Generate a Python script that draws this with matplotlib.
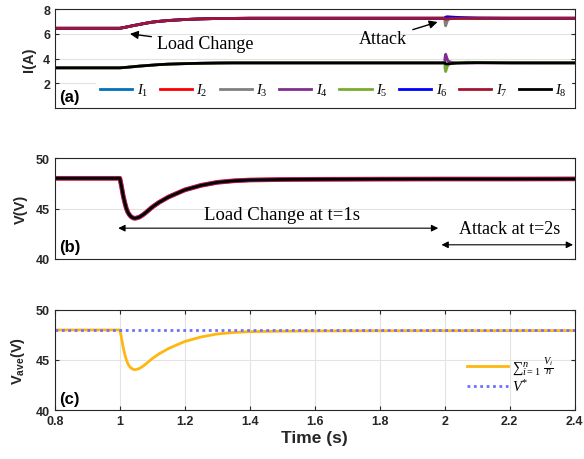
import matplotlib.pyplot as plt

plt.rcParams['font.family'] = 'Liberation Sans'
plt.rcParams['mathtext.fontset'] = 'custom'
plt.rcParams['mathtext.rm'] = 'Liberation Serif'
plt.rcParams['mathtext.it'] = 'Liberation Serif:italic'
plt.rcParams['mathtext.bf'] = 'Liberation Sans:bold'

# tempo comum antes do ataque
t_carga = [0.8, 1.0, 1.02, 1.04, 1.06, 1.08, 1.10, 1.12, 1.15, 1.20, 1.25,
           1.30, 1.35, 1.40, 1.60, 1.80, 2.0]
i_alta = [6.45, 6.45, 6.55, 6.66, 6.76, 6.86, 6.95, 7.01, 7.08, 7.16, 7.21,
          7.24, 7.25, 7.26, 7.26, 7.26, 7.26]
i_baixa = [3.25, 3.25, 3.29, 3.34, 3.39, 3.43, 3.47, 3.51, 3.55, 3.59, 3.62,
           3.64, 3.65, 3.65, 3.65, 3.65, 3.65]

# depois do ataque (t=2s)
t_ataque = [2.0, 2.001, 2.003, 2.006, 2.01, 2.02, 2.04, 2.07, 2.1, 2.15, 2.2, 2.3, 2.4]
i_ataque = {
    1: [7.26, 7.28, 7.30, 7.32, 7.31, 7.29, 7.28, 7.27, 7.26, 7.26, 7.26, 7.26, 7.26],
    2: [7.26, 7.26, 7.25, 7.25, 7.25, 7.26, 7.26, 7.26, 7.26, 7.26, 7.26, 7.26, 7.26],
    3: [7.26, 6.90, 6.65, 6.90, 7.15, 7.25, 7.26, 7.26, 7.26, 7.26, 7.26, 7.26, 7.26],
    4: [3.65, 4.10, 4.35, 4.10, 3.80, 3.70, 3.66, 3.64, 3.65, 3.65, 3.65, 3.65, 3.65],
    5: [3.65, 3.20, 2.95, 3.20, 3.50, 3.62, 3.68, 3.70, 3.69, 3.67, 3.66, 3.65, 3.65],
    6: [7.26, 7.30, 7.35, 7.38, 7.38, 7.36, 7.33, 7.30, 7.28, 7.27, 7.26, 7.26, 7.26],
    7: [7.26, 7.20, 7.18, 7.20, 7.22, 7.24, 7.25, 7.26, 7.26, 7.26, 7.26, 7.26, 7.26],
    8: [3.65, 3.62, 3.58, 3.56, 3.57, 3.60, 3.63, 3.66, 3.67, 3.66, 3.65, 3.65, 3.65],
}
grupo_alto = [1, 2, 3, 6, 7]
cores = {1: '#0072BD', 2: '#FF0000', 3: '#808080', 4: '#7E2F8E',
         5: '#77AC30', 6: '#0000FF', 7: '#A2142F', 8: '#000000'}

# tensao
v_t = [0.8, 1.0, 1.005, 1.01, 1.015, 1.02, 1.025, 1.03, 1.035, 1.04, 1.045, 1.05,
       1.06, 1.07, 1.08, 1.1, 1.12, 1.15, 1.2, 1.25, 1.3, 1.35, 1.4, 1.5, 1.6,
       1.8, 2.0, 2.2, 2.4]
v_dc = [48.0, 48.0, 47.2, 46.3, 45.6, 45.0, 44.6, 44.35, 44.18, 44.08, 44.03, 44.05,
        44.15, 44.35, 44.6, 45.15, 45.6, 46.15, 46.85, 47.3, 47.6, 47.75, 47.83, 47.88,
        47.9, 47.92, 47.93, 47.93, 47.94]
v_ref = 48.0

x_ticks = [0.8, 1.0, 1.2, 1.4, 1.6, 1.8, 2.0, 2.2, 2.4]
x_labels = ['0.8', '1', '1.2', '1.4', '1.6', '1.8', '2', '2.2', '2.4']

cinza = '#262626'
fig = plt.figure(figsize=(5.84, 4.60), dpi=100)
ax_a = fig.add_axes([0.094, 0.763, 0.890, 0.215])
ax_b = fig.add_axes([0.094, 0.435, 0.890, 0.219])
ax_c = fig.add_axes([0.094, 0.1065, 0.890, 0.2175])

for ax in (ax_a, ax_b, ax_c):
    ax.set_xlim(0.8, 2.4)
    ax.tick_params(direction='in', colors=cinza, labelsize=9, width=0.8,
                   right=True, top=True, length=3)
    for s in ax.spines.values():
        s.set_color(cinza)
        s.set_linewidth(0.8)
    ax.grid(True, axis='y', color='#e3e3e3', lw=0.8)
    ax.set_axisbelow(True)

# (a)
for k in range(1, 9):
    base = i_alta if k in grupo_alto else i_baixa
    ax_a.plot(t_carga + t_ataque, base + i_ataque[k], color=cores[k], lw=2,
              label='$I_{%d}$' % k)
ax_a.set_ylim(0, 8)
ax_a.set_yticks([2, 4, 6, 8], ['2', '4', '6', '8'], fontweight='bold')
ax_a.set_xticks([])
ax_a.set_ylabel('I(A)', fontsize=10.5, fontweight='bold', color=cinza)
ax_a.yaxis.set_label_coords(-0.037, 0.5)
leg = ax_a.legend(ncol=8, loc='lower left', bbox_to_anchor=(0.065, -0.02),
                  frameon=True, fontsize=10.5,
                  handlelength=2.2, handletextpad=0.3,
                  columnspacing=0.8, borderpad=0.3)
leg.get_frame().set_edgecolor('white')
leg.get_frame().set_alpha(1)
ax_a.text(0.008, 0.12, '(a)', transform=ax_a.transAxes, fontsize=12,
          fontweight='bold', va='center', zorder=10)
ax_a.annotate('Load Change', xy=(1.031, 6.0), xytext=(1.114, 5.2),
              fontsize=13, family='Liberation Serif',
              va='center', ha='left',
              arrowprops=dict(arrowstyle='-|>', color='k', lw=1, mutation_scale=12,
                              shrinkA=2, shrinkB=0))
ax_a.annotate('Attack', xy=(1.978, 6.96), xytext=(1.885, 5.6),
              fontsize=13, family='Liberation Serif',
              va='center', ha='right',
              arrowprops=dict(arrowstyle='-|>', color='k', lw=1, mutation_scale=12,
                              shrinkA=2, shrinkB=0))

# (b)
ax_b.plot(v_t, v_dc, color='#FF0000', lw=3.4)
ax_b.plot(v_t, v_dc, color='#7E2F8E', lw=2.8)
ax_b.plot(v_t, v_dc, color='#000000', lw=2)
ax_b.set_ylim(40, 50)
ax_b.set_yticks([40, 45, 50], ['40', '45', '50'], fontweight='bold')
ax_b.set_xticks([])
ax_b.set_ylabel('V(V)', fontsize=10.5, fontweight='bold', color=cinza)
ax_b.yaxis.set_label_coords(-0.052, 0.5)
ax_b.text(0.008, 0.12, '(b)', transform=ax_b.transAxes, fontsize=12,
          fontweight='bold', va='center')
ax_b.annotate('', xy=(0.995, 43.05), xytext=(1.98, 43.05),
              arrowprops=dict(arrowstyle='<|-|>', color='k', lw=0.8,
                              mutation_scale=10, shrinkA=0, shrinkB=0))
ax_b.text(1.50, 44.45, 'Load Change at t=1s', fontsize=13.5, ha='center',
          va='center', family='Liberation Serif')
ax_b.annotate('', xy=(1.99, 41.4), xytext=(2.395, 41.4),
              arrowprops=dict(arrowstyle='<|-|>', color='k', lw=0.8,
                              mutation_scale=10, shrinkA=0, shrinkB=0))
ax_b.text(2.2, 43.0, 'Attack at t=2s', fontsize=13, ha='center', va='center',
          family='Liberation Serif')

# (c)
ax_c.plot(v_t, v_dc, color='#FFB70F', lw=2, label=r'${\sum}_{i=1}^{n}\ \frac{V_i}{n}$')
ax_c.axhline(v_ref, color='#6F6FFF', lw=2, ls=(0, (1, 1.3)), label='$V^{*}$')
ax_c.set_ylim(40, 50)
ax_c.set_yticks([40, 45, 50], ['40', '45', '50'], fontweight='bold')
ax_c.set_xticks(x_ticks, x_labels, fontweight='bold')
ax_c.grid(True, axis='both', color='#e3e3e3', lw=0.8)
ax_c.set_ylabel(r'V$_{\mathbf{ave}}$(V)', fontsize=10.5, fontweight='bold', color=cinza)
ax_c.yaxis.set_label_coords(-0.054, 0.5)
ax_c.set_xlabel('Time (s)', fontsize=12.5, fontweight='bold', color=cinza, labelpad=2)
ax_c.text(0.008, 0.12, '(c)', transform=ax_c.transAxes, fontsize=12,
          fontweight='bold', va='center')
ax_c.legend(loc='lower right', bbox_to_anchor=(0.985, 0.03), frameon=False,
            fontsize=10.5, handlelength=2.8,
            handletextpad=0.3, labelspacing=0.1)

fig.savefig('out.png', dpi=100)
